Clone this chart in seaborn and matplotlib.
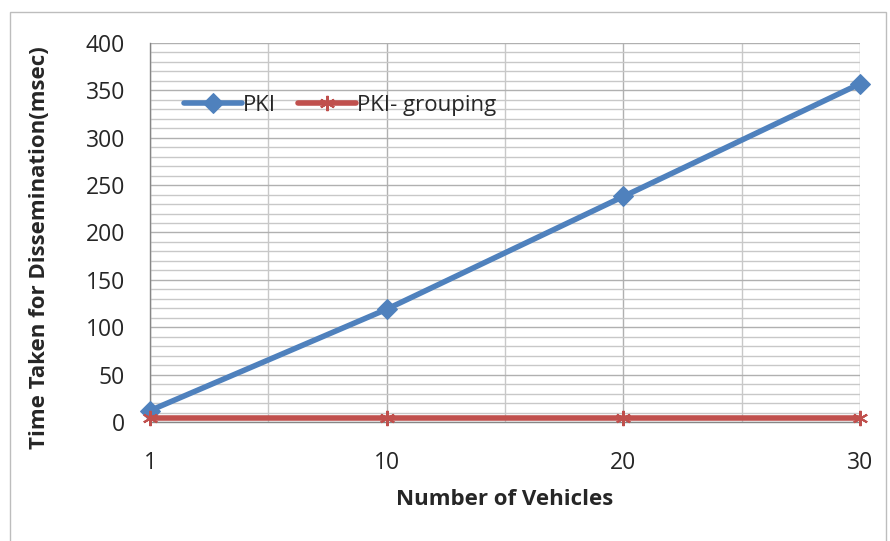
import numpy as np
import pandas as pd
import matplotlib
matplotlib.use("Agg")
import matplotlib.pyplot as plt
import seaborn as sns
from matplotlib.patches import Rectangle
from matplotlib.ticker import MultipleLocator

# data
vehicles = ['1', '10', '20', '30']
pki = [12, 119, 238, 357]
pki_grouping = [4, 4, 4, 4]

sns.set_style("white")
plt.rcParams['font.family'] = ['Open Sans', 'DejaVu Sans']

fig = plt.figure(figsize=(8.9, 5.41), dpi=100)
ax = fig.add_axes([0.1685, 0.22, 0.7978, 0.7005])

# outer chart border
fig.patches.append(Rectangle((0.011, -0.01), 0.985, 0.988, transform=fig.transFigure,
                             fill=False, edgecolor='#BDBDBD', linewidth=1))

sns.lineplot(x=vehicles, y=pki, color='#4F81BD', marker='D', markersize=10,
             markeredgecolor='#4F81BD', linewidth=4, label='PKI',
             ax=ax, zorder=5, clip_on=False)
sns.lineplot(x=vehicles, y=pki_grouping, color='#C0504D', marker=(6, 2, 0), markersize=11,
             markeredgecolor='#C0504D', markeredgewidth=1.5, linewidth=4,
             label='PKI- grouping', ax=ax, zorder=5, clip_on=False)

ax.set_xlim(0, 3)
ax.set_ylim(0, 400)
ax.yaxis.set_major_locator(MultipleLocator(50))
ax.yaxis.set_minor_locator(MultipleLocator(10))
ax.xaxis.set_minor_locator(MultipleLocator(0.5))

ax.grid(which='minor', axis='both', color='#C8C8C8', linewidth=1)
ax.grid(which='major', axis='both', color='#B0B0B0', linewidth=1)
ax.set_axisbelow(True)

for s in ['top', 'right']:
    ax.spines[s].set_visible(False)
for s in ['left', 'bottom']:
    ax.spines[s].set_color('#868686')
    ax.spines[s].set_linewidth(1)

ax.tick_params(axis='both', which='major', direction='out', length=6, width=1,
               color='#868686', labelsize=16.5, pad=12)
ax.tick_params(axis='both', which='minor', length=0)
ax.tick_params(axis='x', pad=15)

ax.set_xlabel('Number of Vehicles', fontsize=16, fontweight='bold', labelpad=10)
ax.set_ylabel('Time Taken for Dissemination(msec)', fontsize=16, fontweight='bold')
ax.yaxis.set_label_coords(-0.141, 0.459)

ax.legend(loc='upper left', bbox_to_anchor=(0.02, 0.915), ncol=2, frameon=False,
          fontsize=16, handlelength=2.6, handletextpad=0.05, columnspacing=1.0)

fig.savefig('out.png', dpi=100)
